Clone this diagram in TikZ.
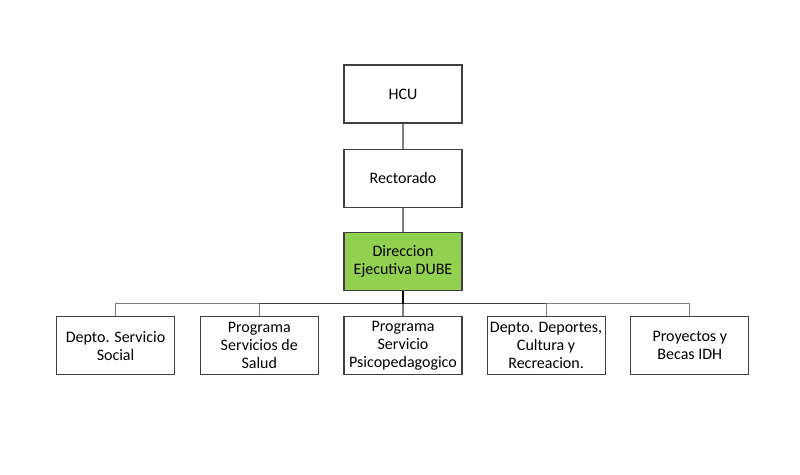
\documentclass[tikz,border=0pt]{standalone}
\usepackage{fontspec}
\setmainfont{Carlito}
\usetikzlibrary{positioning,calc}
\definecolor{dubegreen}{HTML}{92D050}
\definecolor{boxline}{HTML}{404040}
\definecolor{busline}{HTML}{7F7F7F}

\begin{document}
\begin{tikzpicture}[x=0.75pt, y=-0.75pt, font=\fontsize{12}{13.5}\selectfont,
    unit/.style={draw=boxline, thick, rectangle, minimum width=88.5pt, minimum height=43.5pt, align=center, inner sep=1pt},
    link/.style={draw=busline, thick}]
    \useasboundingbox (0,0) rectangle (800,475);
    \node [unit] (hcu) at (403,94) {HCU};
    \node [unit, below=18.75pt of hcu] (rect) {Rectorado};
    \node [unit, below=18.5pt of rect, fill=dubegreen] (dube) {Direccion\\Ejecutiva DUBE};
    \node [unit, below=18.75pt of dube] (psico) {Programa\\Servicio\\Psicopedagogico};
    \node [unit, left=18.5pt of psico] (salud) {Programa\\Servicios de\\Salud};
    \node [unit, left=18.5pt of salud] (social) {Depto. Servicio\\Social};
    \node [unit, right=18pt of psico] (deporte) {Depto. Deportes,\\Cultura y\\Recreacion.};
    \node [unit, right=18.5pt of deporte] (becas) {Proyectos y\\Becas IDH};

    \draw [link] (hcu) -- (rect);
    \draw [link] (rect) -- (dube);
    \coordinate (bus) at ($(dube.south)!0.5!(psico.north)$);
    \foreach \b in {social,salud,psico,deporte,becas}
        \draw [link] (bus) -| (\b.north);
    \draw [thick, boxline] (bus -| salud.north) -- (bus -| deporte.north);
    \draw [very thick, black] (dube.south) -- (bus);
\end{tikzpicture}
\end{document}
